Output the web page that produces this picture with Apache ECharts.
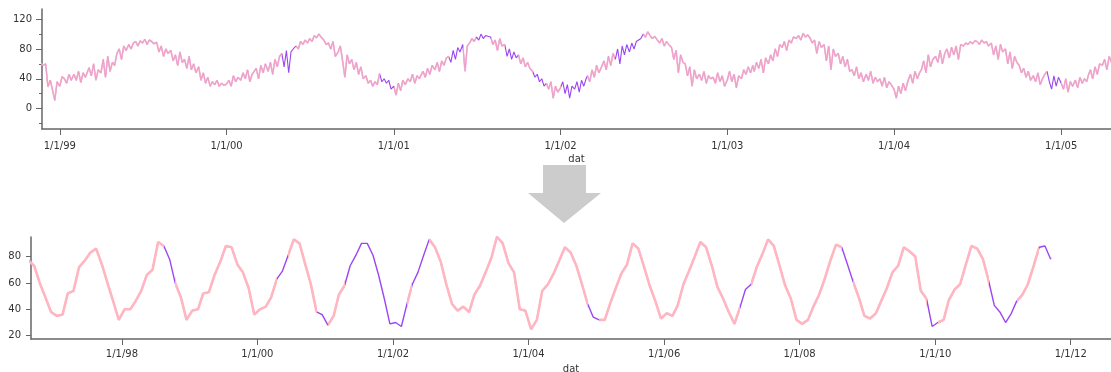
<!DOCTYPE html>
<html>
<head>
<meta charset="utf-8">
<script src="https://cdn.jsdelivr.net/npm/echarts@6/dist/echarts.min.js"></script>
<style>
  html, body { margin: 0; padding: 0; background: #fff; }
  #chart { width: 1111px; height: 372px; }
</style>
</head>
<body>
<div id="chart"></div>
<script>
// upper panel: six readings a month (days 1, 6, 11, 16, 21, 26), Nov 1998 .. Apr 2005
const dailyStart = [1998, 10];
const dailyDays = [1, 6, 11, 16, 21, 26];
const dailyTemps = [
  56, 60, 52, 58, 60, 58,   60, 29, 38, 25, 11, 36,
  30, 43, 40, 34, 46, 38,   46, 38, 50, 35, 48, 42,   40, 55, 44, 60, 38, 52,   48, 66, 42, 70, 50, 62,
  58, 74, 80, 66, 84, 78,   86, 80, 88, 90, 84, 91,   88, 93, 86, 92, 90, 87,   89, 76, 84, 70, 80, 74,
  78, 64, 72, 58, 76, 62,   66, 54, 70, 52, 60, 48,   56, 38, 48, 34, 42, 30,   36, 32, 38, 30, 34, 31,
  33, 38, 30, 44, 36, 42,   38, 48, 40, 52, 36, 46,   44, 54, 40, 58, 48, 60,   50, 62, 46, 66, 56, 70,
  74, 56, 78, 48, 76, 80,   84, 80, 90, 86, 92, 88,   94, 90, 98, 95, 100, 96,  92, 86, 88, 80, 90, 70,
  76, 84, 64, 42, 72, 60,   66, 52, 62, 46, 56, 40,   44, 34, 38, 30, 36, 32,   47, 36, 40, 34, 38, 26,
  30, 18, 34, 24, 38, 32,   40, 36, 46, 34, 44, 40,   44, 50, 42, 54, 46, 58,   52, 62, 50, 64, 58, 68,
  70, 62, 78, 66, 82, 76,   86, 50, 84, 88, 94, 90,   96, 92, 100, 94, 98, 97,  96, 86, 92, 78, 94, 84,
  86, 70, 80, 66, 76, 68,   72, 60, 68, 56, 62, 54,   50, 42, 46, 36, 40, 30,   34, 26, 36, 14, 30, 22,
  28, 36, 20, 32, 14, 30,   26, 36, 22, 38, 30, 40,   44, 36, 52, 42, 58, 48,   56, 64, 52, 70, 58, 74,
  66, 80, 60, 84, 72, 86,   76, 88, 80, 90, 92, 94,   100, 96, 103, 98, 94, 97,  92, 88, 94, 84, 90, 86,
  82, 66, 78, 48, 72, 62,   60, 44, 56, 30, 52, 40,   46, 38, 50, 34, 44, 40,   42, 34, 48, 36, 44, 30,
  38, 50, 36, 46, 28, 44,   40, 52, 46, 56, 48, 58,   50, 62, 54, 66, 48, 68,   60, 72, 64, 80, 70, 86,
  82, 90, 78, 92, 88, 96,   94, 98, 92, 101, 96, 99,  95, 88, 92, 74, 90, 82,   86, 64, 84, 52, 80, 70,
  74, 60, 70, 56, 66, 50,   52, 44, 56, 40, 48, 36,   46, 38, 50, 34, 42, 36,   40, 30, 42, 28, 36, 32,
  26, 14, 30, 20, 34, 24,   38, 46, 34, 50, 40, 48,   52, 64, 48, 72, 56, 66,   70, 62, 78, 60, 74, 80,
  68, 82, 72, 84, 66, 86,   84, 88, 86, 90, 87, 91,   90, 86, 92, 88, 90, 84,   88, 72, 84, 66, 86, 76,
  80, 60, 76, 54, 70, 62,   58, 48, 54, 42, 50, 38,   44, 36, 48, 32, 40, 46,   50, 36, 26, 44, 30, 42,
  34, 26, 40, 22, 36, 30,   38, 28, 42, 34, 40, 36,   44, 52, 40, 56, 46, 60,   58, 66, 52, 70, 62, 64
];

// lower panel: monthly means (mid-month), Aug 1996 .. Sep 2011
const monthlyStart = [1996, 7];
const monthlyTemps = [
  77, 73, 60, 49, 38,
  35, 36, 52, 54, 72, 77, 83, 86, 74, 60, 46, 32,
  40, 40, 46, 54, 66, 70, 91, 88, 78, 60, 49, 32,
  39, 40, 52, 53, 66, 76, 88, 87, 74, 68, 56, 36,
  40, 42, 49, 63, 69, 81, 93, 90, 74, 59, 38, 36,
  28, 35, 51, 58, 73, 81, 90, 90, 81, 66, 48, 29,
  30, 27, 43, 59, 68, 81, 93, 87, 76, 59, 44, 39,
  42, 38, 51, 58, 68, 79, 95, 90, 75, 68, 40, 39,
  25, 32, 54, 59, 67, 77, 87, 83, 73, 59, 44, 34,
  32, 32, 44, 56, 67, 74, 90, 86, 72, 58, 46, 33,
  37, 35, 43, 59, 69, 80, 91, 87, 73, 57, 48, 38,
  29, 42, 55, 59, 72, 82, 93, 88, 73, 58, 48, 32,
  29, 32, 42, 51, 63, 77, 89, 87, 74, 61, 49, 35,
  33, 37, 46, 56, 68, 73, 87, 84, 80, 54, 48, 27,
  30, 32, 47, 55, 59, 74, 88, 86, 78, 62, 43, 38,
  30, 37, 46, 51, 59, 73, 87, 88, 78
];

// selected months, drawn in purple in both panels
const highlightMonths = [
  '1998-09', '2000-05', '2000-12', '2001-05', '2001-07', '2001-09', '2001-11',
  '2002-01', '2002-02', '2002-05', '2002-06', '2004-12', '2007-03', '2008-09',
  '2009-12', '2010-11', '2010-12', '2011-01', '2011-02', '2011-08'
];

const topYears = [1999, 2000, 2001, 2002, 2003, 2004, 2005];
const bottomYears = [1998, 2000, 2002, 2004, 2006, 2008, 2010, 2012];
const topYTicks = [0, 40, 80, 120];
const topYMinorTicks = [-20, 20, 60, 100];
const bottomYTicks = [20, 40, 60, 80];

const PINK = '#ffb6c1';
const PURPLE = '#9b45f3';
const CLEAR = 'rgba(255,255,255,0)';
const AXIS = '#666';
const FONT = 'DejaVu Sans';

const topData = dailyTemps.map((v, i) => {
  const d = new Date(dailyStart[0], dailyStart[1] + Math.floor(i / 6), dailyDays[i % 6]);
  return [d.getTime(), v];
});
const bottomData = monthlyTemps.map((v, i) =>
  [new Date(monthlyStart[0], monthlyStart[1] + i, 15).getTime(), v]);

function ym(s) {
  const p = s.split('-').map(Number);
  return [p[0], p[1] - 1];
}
function merge(list) {
  list.sort((a, b) => a[0] - b[0]);
  const out = [];
  list.forEach(r => {
    const last = out[out.length - 1];
    if (last && r[0] <= last[1]) last[1] = Math.max(last[1], r[1]);
    else out.push(r.slice());
  });
  return out;
}
const topRanges = merge(highlightMonths.map(s => {
  const [y, m] = ym(s);
  return [new Date(y, m, 1).getTime(), new Date(y, m + 1, 1).getTime()];
}));
const bottomRanges = merge(highlightMonths.map(s => {
  const [y, m] = ym(s);
  return [new Date(y, m - 1, 15).getTime(), new Date(y, m + 1, 15).getTime()];
}));

const jan1 = y => new Date(y, 0, 1).getTime();
const fmtDate = v => {
  const d = new Date(v);
  return (d.getMonth() + 1) + '/' + d.getDate() + '/' + String(d.getFullYear()).slice(-2);
};
const labelStyle = { color: '#333', fontFamily: FONT, fontSize: 10 };

// dates are plain timestamps on a value axis, so ticks can sit on Jan 1
function xAxis(gridIndex, min, max, years, margin, nameGap) {
  return {
    type: 'value', gridIndex, min, max, scale: true,
    name: 'dat', nameLocation: 'middle', nameGap,
    nameTextStyle: labelStyle,
    axisLine: { onZero: false, lineStyle: { color: AXIS, width: 1.5 } },
    axisTick: { show: true, length: 6, customValues: years.map(jan1), lineStyle: { color: AXIS, width: 1 } },
    axisLabel: Object.assign({ customValues: years.map(jan1), formatter: fmtDate, margin }, labelStyle),
    splitLine: { show: false }
  };
}
function yAxis(gridIndex, min, max, ticks, len, labels) {
  return {
    type: 'value', gridIndex, min, max, position: 'left',
    axisLine: { show: labels, onZero: false, lineStyle: { color: AXIS, width: 1.5 } },
    axisTick: { show: true, length: len, customValues: ticks, lineStyle: { color: AXIS, width: 1 } },
    axisLabel: Object.assign({ show: labels, customValues: ticks, margin: 10 }, labelStyle),
    splitLine: { show: false }
  };
}

// the pink line is hidden over the highlighted stretches, leaving the purple one below
function hideRanges(seriesIndex, ranges) {
  return {
    show: false, type: 'piecewise', seriesIndex, dimension: 0,
    pieces: ranges.map(r => ({ gte: r[0], lt: r[1], color: CLEAR })),
    outOfRange: { color: PINK }
  };
}

const chart = echarts.init(document.getElementById('chart'), null, { renderer: 'canvas' });
chart.setOption({
  animation: false,
  grid: [
    { left: 42, top: 9, right: 0, height: 120, containLabel: false, outerBoundsMode: 'none' },
    { left: 31, top: 237, right: 0, height: 102, containLabel: false, outerBoundsMode: 'none' }
  ],
  xAxis: [
    xAxis(0, new Date(1998, 10, 23).getTime(), new Date(2005, 3, 20).getTime(), topYears, 12, 25),
    xAxis(1, new Date(1996, 7, 29).getTime(), new Date(2012, 7, 5).getTime(), bottomYears, 10, 25)
  ],
  yAxis: [
    yAxis(0, -27.5, 133.7, topYTicks, 6, true),
    yAxis(1, 17.5, 94.8, bottomYTicks, 5, true),
    yAxis(0, -27.5, 133.7, topYMinorTicks, 3, false)
  ],
  visualMap: [hideRanges(1, topRanges), hideRanges(3, bottomRanges)],
  series: [
    { type: 'line', xAxisIndex: 0, yAxisIndex: 0, data: topData, showSymbol: false,
      lineStyle: { color: PURPLE, width: 1.1 } },
    { type: 'line', xAxisIndex: 0, yAxisIndex: 0, data: topData, showSymbol: false,
      lineStyle: { width: 1.8, opacity: 0.8 } },
    { type: 'line', xAxisIndex: 1, yAxisIndex: 1, data: bottomData, showSymbol: false,
      lineStyle: { color: PURPLE, width: 1.4 } },
    { type: 'line', xAxisIndex: 1, yAxisIndex: 1, data: bottomData, showSymbol: false,
      lineStyle: { width: 2.6 } }
  ],
  graphic: [{
    type: 'polygon',
    shape: { points: [[543, 165], [586, 165], [586, 193], [601, 193], [564, 223], [528, 193], [543, 193]] },
    style: { fill: '#cccccc' },
    z: -1
  }]
});
</script>
</body>
</html>
